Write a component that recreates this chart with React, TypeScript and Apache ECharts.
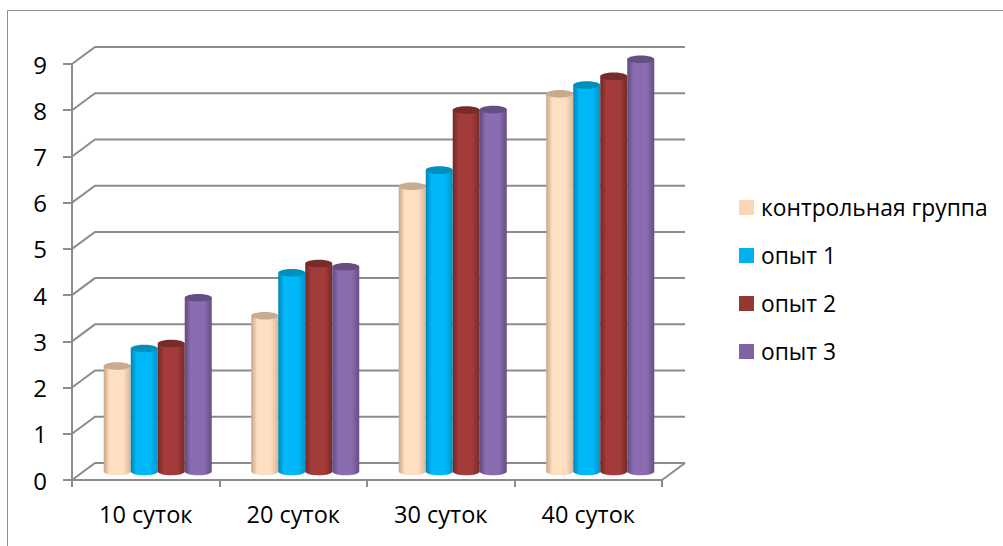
import React, { useEffect, useRef } from "react";
import * as echarts from "echarts";

const categories = ["10 суток", "20 суток", "30 суток", "40 суток"];
const yTicks = [0, 1, 2, 3, 4, 5, 6, 7, 8, 9];
const seriesNames = ["контрольная группа", "опыт 1", "опыт 2", "опыт 3"];
const controlValues = [2.28, 3.37, 6.17, 8.17];
const trial1Values = [2.66, 4.3, 6.52, 8.36];
const trial2Values = [2.77, 4.5, 7.82, 8.55];
const trial3Values = [3.76, 4.43, 7.83, 8.92];
const allValues = [controlValues, trial1Values, trial2Values, trial3Values];

const legendColors = ["#FCD5B5", "#00B0F0", "#953735", "#8064A2"];
const palettes = [
  { edgeL: "#c7a484", mid: "#ffdfc2", edgeR: "#d9b797", cap: "#c9ab90" },
  { edgeL: "#0085b4", mid: "#00b8f8", edgeR: "#0093c6", cap: "#008fbf" },
  { edgeL: "#6f2827", mid: "#a23b39", edgeR: "#752a29", cap: "#772c2b" },
  { edgeL: "#5f4a7a", mid: "#8a6cb0", edgeR: "#654f82", cap: "#644e82" },
];

const AXIS = "#8c8c8c";
const DX = 23;
const DY = 17;
const FONT = "'Open Sans', sans-serif";
const BAR_RATIO = 27 / 147.5;

function gridRender(params: any, api: any) {
  const cs = params.coordSys;
  const y = api.coord([0, api.value(1)])[1];
  return {
    type: "polyline",
    silent: true,
    shape: {
      points: [
        [cs.x, y],
        [cs.x + DX, y - DY],
        [cs.x + cs.width + DX, y - DY],
      ],
    },
    style: { fill: "none", stroke: AXIS, lineWidth: 2 },
  };
}

function floorEdgeRender(params: any) {
  const cs = params.coordSys;
  const y = cs.y + cs.height;
  const x = cs.x + cs.width;
  return {
    type: "line",
    silent: true,
    shape: { x1: x, y1: y, x2: x + DX, y2: y - DY },
    style: { stroke: AXIS, lineWidth: 2 },
  };
}

function barRender(k: number) {
  return (_params: any, api: any) => {
    const idx = api.value(0);
    const w = api.size([1, 0])[0] * BAR_RATIO;
    const x = api.coord([idx, 0])[0] + DX / 2 + 0.5 + (k - 2) * w;
    const base = api.coord([idx, 0])[1] - DY / 2;
    const top = api.coord([idx, api.value(1)])[1] - DY / 2;
    const p = palettes[k];
    const body = new echarts.graphic.LinearGradient(0, 0, 1, 0, [
      { offset: 0, color: p.edgeL },
      { offset: 0.22, color: p.mid },
      { offset: 0.72, color: p.mid },
      { offset: 1, color: p.edgeR },
    ]);
    const rx = w / 2;
    const ry = 3.8;
    return {
      type: "group",
      silent: true,
      children: [
        { type: "ellipse", shape: { cx: x + rx, cy: base, rx, ry }, style: { fill: body } },
        { type: "rect", shape: { x, y: top, width: w, height: base - top }, style: { fill: body } },
        { type: "ellipse", shape: { cx: x + rx, cy: top, rx, ry }, style: { fill: p.cap } },
      ],
    };
  };
}

export default function App() {
  const ref = useRef<HTMLDivElement>(null);
  useEffect(() => {
    const chart = echarts.init(ref.current!, undefined, { renderer: "svg" });
    chart.setOption({
      animation: false,
      backgroundColor: "#ffffff",
      graphic: [
        {
          type: "polyline",
          silent: true,
          shape: { points: [[7.5, 546], [7.5, 10.5], [1003, 10.5]] },
          style: { fill: "none", stroke: "#8c8c8c", lineWidth: 1 },
        },
      ],
      legend: {
        left: 734,
        top: 191,
        orient: "vertical",
        icon: "rect",
        itemWidth: 15,
        itemHeight: 15,
        itemGap: 25,
        data: seriesNames,
        selectedMode: false,
        textStyle: { fontFamily: FONT, fontSize: 22.8, lineHeight: 22, color: "#000", padding: [0, 0, 0, 2] },
      },
      grid: { left: 72, top: 64, width: 590, height: 416 },
      xAxis: {
        type: "category",
        data: categories,
        axisLine: { show: true, lineStyle: { color: AXIS, width: 2 } },
        axisTick: { show: true, length: 7, lineStyle: { color: AXIS, width: 2 } },
        axisLabel: { color: "#000", fontFamily: FONT, fontSize: 23.5, margin: 22 },
        splitLine: { show: false },
      },
      yAxis: {
        type: "value",
        min: 0,
        max: 9,
        interval: 1,
        axisLine: { show: true, lineStyle: { color: AXIS, width: 2 } },
        axisTick: { show: true, length: 9, lineStyle: { color: AXIS, width: 2 } },
        axisLabel: { color: "#000", fontFamily: FONT, fontSize: 24, margin: 25 },
        splitLine: { show: false },
      },
      series: [
        {
          type: "custom",
          name: "grid",
          z: 1,
          renderItem: gridRender,
          data: yTicks.map((v) => [0, v]),
          encode: { x: 0, y: 1 },
        },
        {
          type: "custom",
          name: "floor",
          z: 1,
          renderItem: floorEdgeRender,
          data: [[0, 0]],
          encode: { x: 0, y: 1 },
        },
        ...seriesNames.map((name, k) => ({
          type: "custom",
          name,
          z: 3,
          itemStyle: { color: legendColors[k] },
          renderItem: barRender(k),
          data: allValues[k].map((v, i) => [i, v]),
          encode: { x: 0, y: 1 },
        })),
      ],
    });
    return () => chart.dispose();
  }, []);
  return (
    <div
      ref={ref}
      style={{ position: "absolute", left: 0, top: 0, width: 1003, height: 546 }}
    />
  );
}
